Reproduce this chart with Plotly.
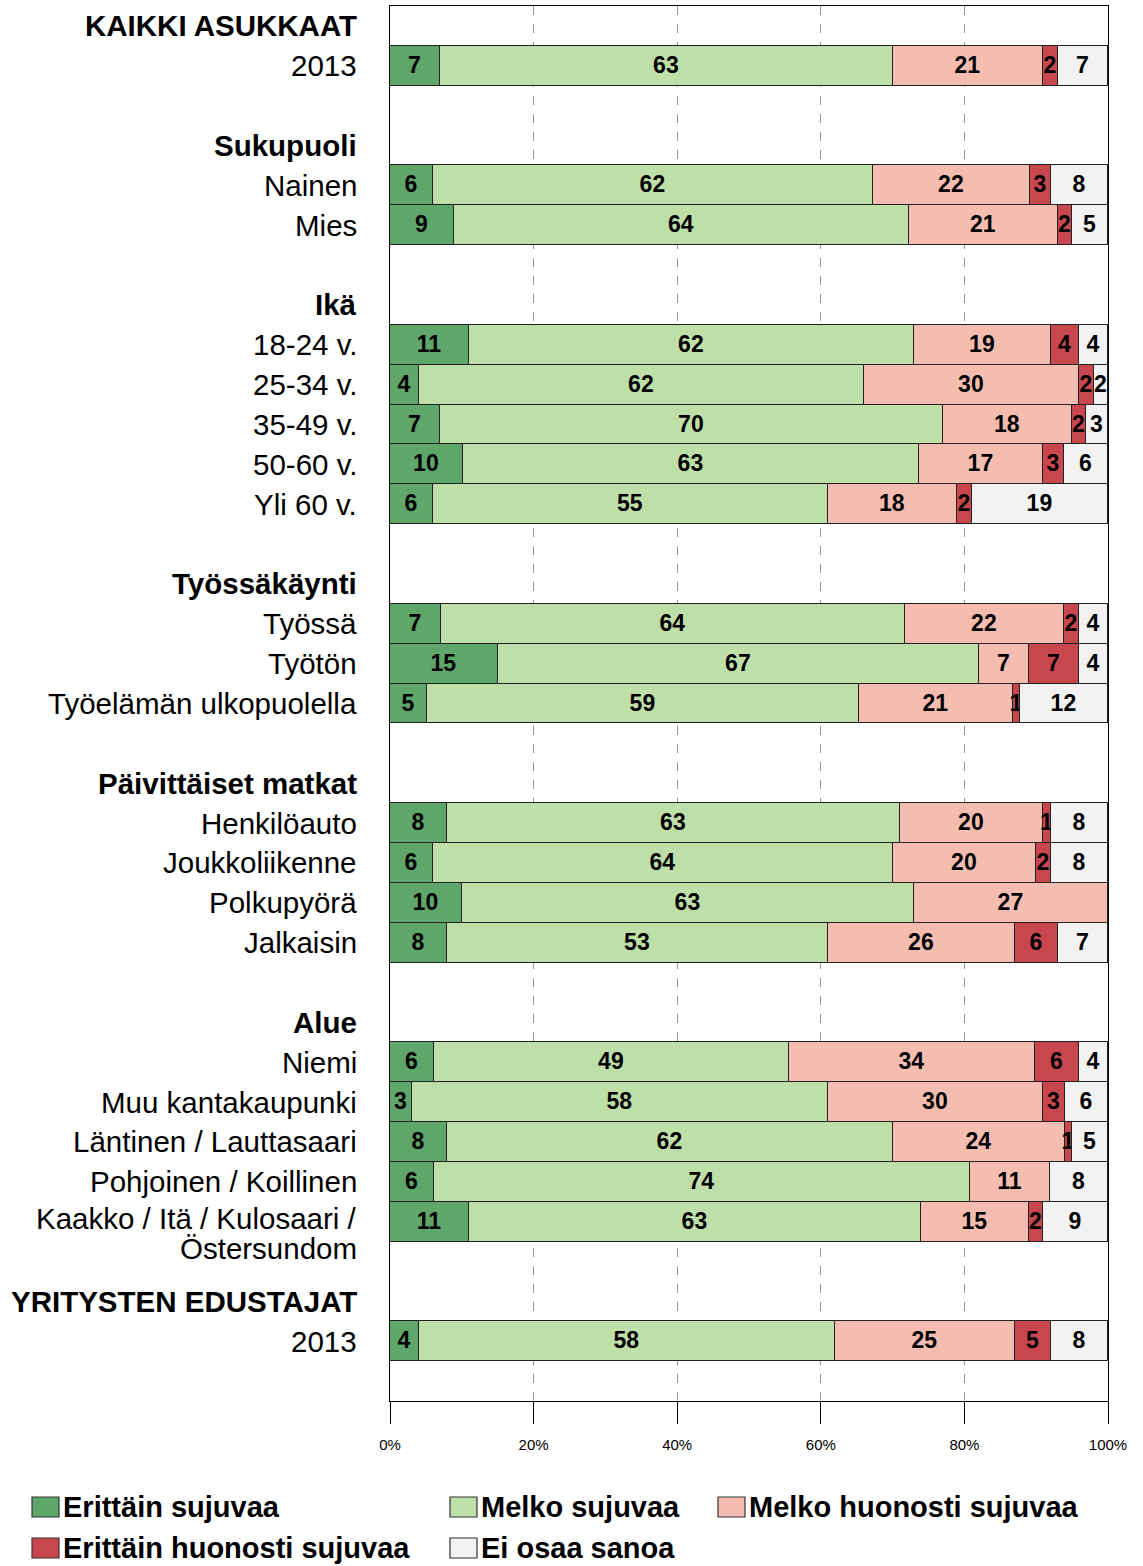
import plotly.graph_objects as go

# ---------------- data ----------------
series_names = ["Erittäin sujuvaa", "Melko sujuvaa", "Melko huonosti sujuvaa",
                "Erittäin huonosti sujuvaa", "Ei osaa sanoa"]

row_labels = ["KAIKKI ASUKKAAT", "2013", "",
              "Sukupuoli", "Nainen", "Mies", "",
              "Ikä", "18-24 v.", "25-34 v.", "35-49 v.", "50-60 v.", "Yli 60 v.", "",
              "Työssäkäynti", "Työssä", "Työtön", "Työelämän ulkopuolella", "",
              "Päivittäiset matkat", "Henkilöauto", "Joukkoliikenne", "Polkupyörä", "Jalkaisin", "",
              "Alue", "Niemi", "Muu kantakaupunki", "Läntinen / Lauttasaari",
              "Pohjoinen / Koillinen", "Kaakko / Itä / Kulosaari /<br>Östersundom", "",
              "YRITYSTEN EDUSTAJAT", "2013", ""]
header_labels = ["KAIKKI ASUKKAAT", "Sukupuoli", "Ikä", "Työssäkäynti",
                 "Päivittäiset matkat", "Alue", "YRITYSTEN EDUSTAJAT"]

erittain_sujuvaa = [7, 6, 9, 11, 4, 7, 10, 6, 7, 15, 5, 8, 6, 10, 8, 6, 3, 8, 6, 11, 4]
melko_sujuvaa = [63, 62, 64, 62, 62, 70, 63, 55, 64, 67, 59, 63, 64, 63, 53, 49, 58, 62, 74, 63, 58]
melko_huonosti = [21, 22, 21, 19, 30, 18, 17, 18, 22, 7, 21, 20, 20, 27, 26, 34, 30, 24, 11, 15, 25]
erittain_huonosti = [2, 3, 2, 4, 2, 2, 3, 2, 2, 7, 1, 1, 2, 0, 6, 6, 3, 1, 0, 2, 5]
ei_osaa_sanoa = [7, 8, 5, 4, 2, 3, 6, 19, 4, 4, 12, 8, 8, 0, 7, 4, 6, 5, 8, 9, 8]

tick_vals = [0, 20, 40, 60, 80, 100]
tick_text = ["0%", "20%", "40%", "60%", "80%", "100%"]

# ---------------- style ----------------
colors = ["#5fa66a", "#bfdfa8", "#f5bdb0", "#c8474f", "#f2f2f2"]
FONT = "Liberation Sans, Arial, sans-serif"

data_slots = [i for i, lab in enumerate(row_labels) if lab and lab not in header_labels]
series_values = [erittain_sujuvaa, melko_sujuvaa, melko_huonosti, erittain_huonosti, ei_osaa_sanoa]

fig = go.Figure()
for name, vals, col in zip(series_names, series_values, colors):
    fig.add_trace(go.Bar(
        name=name, orientation="h", y=data_slots, x=vals,
        text=[str(v) if v else "" for v in vals],
        texttemplate="%{text}",
        textposition="inside", insidetextanchor="middle", textangle=0,
        constraintext="none",
        insidetextfont=dict(family=FONT, size=23, color="black", weight="bold"),
        marker=dict(color=col, line=dict(color="#222222", width=1.2)),
        showlegend=False, hoverinfo="skip",
    ))

W, H = 1143, 1566
ML, MR, MT, MB = 390, 35, 6, 165
PW, PH = W - ML - MR, H - MT - MB

def px_x(p):
    return (p - ML) / PW

def px_y(p):
    return (H - MB - p) / PH

annotations = []
for i, lab in enumerate(row_labels):
    if not lab:
        continue
    bold = lab in header_labels
    lines = lab.split("<br>")
    for k, line in enumerate(lines):
        annotations.append(dict(
            x=0, xref="paper", y=i, yref="y", xanchor="right", yanchor="middle",
            xshift=-31, yshift=(3 - 30 * k) if len(lines) > 1 else 0,
            text=(f"<b>{line}</b>" if bold else line), showarrow=False, align="right",
            font=dict(family=FONT, size=29.5, color="black"),
        ))

shapes = []
legend_pos = [(32, 1507), (450, 1507), (718, 1507), (32, 1548), (450, 1548)]
for name, col, (lx, ly) in zip(series_names, colors, legend_pos):
    shapes.append(dict(type="rect", xref="paper", yref="paper",
                       x0=px_x(lx), x1=px_x(lx + 27), y0=px_y(ly + 10), y1=px_y(ly - 10),
                       fillcolor=col, line=dict(color="#333333", width=1.2)))
    annotations.append(dict(x=px_x(lx + 29), xref="paper", y=px_y(ly), yref="paper",
                            xanchor="left", yanchor="middle", showarrow=False,
                            text=f"<b>{name}</b>",
                            font=dict(family=FONT, size=29, color="black")))

fig.update_layout(
    width=W, height=H, barmode="stack", barnorm="percent", bargap=0,
    margin=dict(l=ML, r=MR, t=MT, b=MB),
    paper_bgcolor="white", plot_bgcolor="white",
    annotations=annotations, shapes=shapes,
    xaxis=dict(range=[0, 100], tickvals=tick_vals, ticktext=tick_text,
               ticks="outside", ticklen=22, tickcolor="black", tickwidth=1,
               showline=True, linecolor="black", linewidth=1.2, mirror=True,
               showgrid=True, gridcolor="#999999", griddash="dash", gridwidth=1,
               zeroline=False, ticklabelstandoff=8,
               tickfont=dict(family=FONT, size=15, color="black")),
    yaxis=dict(range=[len(row_labels) - 0.5, -0.5], showticklabels=False,
               showline=True, linecolor="black", linewidth=1.2, mirror=True,
               showgrid=False, zeroline=False, ticks=""),
    font=dict(family=FONT, color="black"),
)

fig.write_html("out.html", config={"displayModeBar": False},
               post_script="document.body.style.margin='0px';")
